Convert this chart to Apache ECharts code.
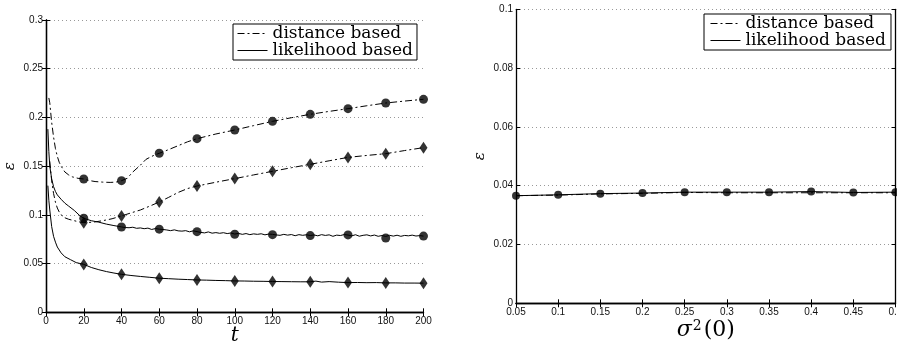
<!DOCTYPE html>
<html>
<head>
<meta charset="utf-8">
<script src="https://cdn.jsdelivr.net/npm/echarts@6/dist/echarts.min.js"></script>
<style>
html,body{margin:0;padding:0;background:#fff;}
#c{width:897px;height:343px;}
</style>
</head>
<body>
<div id="c"></div>
<script>
// ---------- Left panel data ----------
const tDistTop = [1.5,2,3,4,5,6,7,8,10,12,14,17,20,23,26,30,34,37,40,43,46,50,53,56,58,60,65,70,75,80,90,100,110,120,130,140,150,160,170,180,190,200];
const vDistTop = [0.220,0.215,0.195,0.180,0.168,0.160,0.154,0.150,0.144,0.141,0.139,0.1375,0.1368,0.1352,0.1342,0.1336,0.1333,0.1336,0.1351,0.1375,0.1440,0.1510,0.1570,0.1600,0.1618,0.1632,0.1670,0.1710,0.1750,0.1782,0.1830,0.1871,0.1916,0.1960,0.1997,0.2032,0.2062,0.2090,0.2120,0.2148,0.2168,0.2186];

const tDistLow = [2,3,4,5,6,7,8,10,12,14,17,20,25,30,35,40,45,50,55,60,65,70,75,80,90,100,110,120,130,140,150,160,170,180,190,200];
const vDistLow = [0.155,0.135,0.122,0.113,0.107,0.103,0.100,0.097,0.0955,0.0945,0.093,0.092,0.0925,0.094,0.096,0.0989,0.102,0.105,0.109,0.1132,0.118,0.123,0.127,0.1296,0.1335,0.1372,0.141,0.1447,0.1484,0.1519,0.1555,0.159,0.161,0.1628,0.166,0.169];

const tLikeTop = [1,1.5,2,3,4,5,6,8,10,12,15,18,20,24,28,32,36,40,42,44,46,48,50,52,54,56,58,60,62,64,66,68,70,72,74,76,78,80,82,84,86,88,90,92,94,96,98,100,102,104,106,108,110,112,114,116,118,120,122,124,126,128,130,132,134,136,138,140,142,144,146,148,150,152,154,156,158,160,162,164,166,168,170,172,174,176,178,180,182,184,186,188,190,192,194,196,198,200];
const vLikeTop = [0.188,0.165,0.150,0.137,0.129,0.124,0.1205,0.116,0.112,0.109,0.1045,0.099,0.0965,0.094,0.0925,0.0905,0.089,0.0876,
0.0870,0.0868,0.0873,0.0862,0.0866,0.0858,0.0864,0.0850,0.0860,0.0853,0.0850,0.0845,0.0838,0.0846,0.0836,0.0833,0.0838,0.0826,0.0836,0.0828,
0.0820,0.0815,0.0825,0.0812,0.0818,0.0811,0.0817,0.0808,0.0814,0.0803,0.0810,0.0800,0.0808,0.0797,0.0805,0.0800,0.0806,0.0795,0.0803,0.0800,
0.0794,0.0790,0.0800,0.0792,0.0798,0.0786,0.0797,0.0790,0.0796,0.0788,0.0794,0.0785,0.0797,0.0789,0.0795,0.0780,0.0792,0.0788,0.0798,0.0793,
0.0785,0.0796,0.0781,0.0790,0.0795,0.0784,0.0793,0.0780,0.0788,0.0779,0.0790,0.0782,0.0791,0.0780,0.0789,0.0785,0.0792,0.0783,0.0787,0.0782];

const tLikeLow = [1,1.5,2,3,4,5,6,8,10,13,16,20,24,28,32,36,40,45,50,55,60,65,70,75,80,85,90,95,100,105,110,115,120,125,130,135,140,143,146,150,155,160,165,170,175,180,185,190,195,200];
const vLikeLow = [0.130,0.115,0.105,0.088,0.078,0.072,0.067,0.061,0.057,0.054,0.051,0.0492,0.046,0.0437,0.0418,0.0403,0.0390,0.0378,0.0368,0.0359,0.0350,0.0345,0.0340,0.0336,0.0332,0.0330,0.0327,0.0325,0.0322,0.0321,0.0319,0.0318,0.0316,0.0315,0.0314,0.0313,0.0313,0.0320,0.0310,0.0315,0.0309,0.0305,0.0306,0.0304,0.0305,0.0302,0.0302,0.0300,0.0300,0.0299];

const tMarks = [20,40,60,80,100,120,140,160,180,200];
const distCircles  = [0.1368,0.1351,0.1632,0.1782,0.1871,0.1960,0.2032,0.2090,0.2148,0.2186];
const distDiamonds = [0.0920,0.0989,0.1132,0.1296,0.1372,0.1447,0.1519,0.1590,0.1628,0.1690];
const likeCircles  = [0.0965,0.0876,0.0853,0.0828,0.0801,0.0797,0.0787,0.0794,0.0762,0.0782];
const likeDiamonds = [0.0490,0.0390,0.0350,0.0332,0.0322,0.0316,0.0313,0.0305,0.0302,0.0299];

// ---------- Right panel data ----------
const sigma0 = [0.05,0.1,0.15,0.2,0.25,0.3,0.35,0.4,0.45,0.5];
const rightLike = [0.0366,0.0369,0.0373,0.0375,0.0378,0.0378,0.0378,0.0380,0.0377,0.0378];
const rightDist = [0.0366,0.0368,0.0372,0.0374,0.0377,0.0376,0.0376,0.0376,0.0376,0.0376];

const legendNames = ['distance based','likelihood based'];

// ---------- helpers ----------
const zip = (xs, ys) => xs.map((x, i) => [x, ys[i]]);
const DASHDOT = [7,3,2,3];
const LBL = {color:'#111', fontSize:10, fontFamily:'Liberation Sans, Arial, sans-serif'};
const AXLINE = {show:true, lineStyle:{color:'#000', width:1.3}};
const TICK = {show:true, inside:true, length:4, lineStyle:{color:'#000', width:1}};
const GRIDLINE = {show:true, lineStyle:{color:'#999', type:[1,3], width:1}};

function lineSeries(name, data, xi, dashed) {
  return {type:'line', name:name, data:data, xAxisIndex:xi, yAxisIndex:xi, symbol:'none',
    smooth:false, silent:true, z:3,
    lineStyle:{color:'#000', width:1, type: dashed ? DASHDOT : 'solid'}, itemStyle:{color:'#000'}};
}
function markSeries(data, xi, sym, size) {
  return {type:'scatter', name:'_m', data:data, xAxisIndex:xi, yAxisIndex:xi, symbol:sym,
    symbolSize:size, silent:true, z:5, itemStyle:{color:'#000'}};
}

const legendText = {color:'#000', fontSize:17, fontFamily:'DejaVu Serif, serif', lineHeight:17};
const legendBase = {data:legendNames, orient:'vertical', itemWidth:30, itemHeight:10, itemGap:0,
  borderColor:'#000', borderWidth:1, backgroundColor:'#fff', borderRadius:0,
  textStyle:legendText, selectedMode:false,
  itemStyle:{opacity:0}, lineStyle:{width:1, color:'#000'}};

const option = {
  animation:false,
  backgroundColor:'#fff',
  grid:[
    {left:46, right:473.5, top:20, bottom:30.7, outerBoundsMode:'none', containLabel:false},
    {left:516, right:1.5, top:9.3, bottom:39.7, outerBoundsMode:'none', containLabel:false}
  ],
  legend:[
    Object.assign({left:233, top:24, padding:[1,4,1,4]}, legendBase),
    Object.assign({left:704, top:14, padding:[1,5,1,6]}, legendBase)
  ],
  xAxis:[
    {type:'value', gridIndex:0, min:0, max:200, interval:20, position:'bottom',
     axisLine:AXLINE, axisTick:TICK, splitLine:{show:false}, axisLabel:Object.assign({margin:4}, LBL),
     name:'t', nameLocation:'middle', nameGap:13, nameMoveOverlap:false,
     nameTextStyle:{fontSize:20, fontStyle:'italic', fontFamily:'DejaVu Serif, serif', color:'#000'}},
    {type:'value', gridIndex:0, min:0, max:200, interval:20, position:'top',
     axisLine:AXLINE, axisTick:TICK, splitLine:{show:false}, axisLabel:{show:false}},
    {type:'value', gridIndex:1, min:0.05, max:0.5, interval:0.05, position:'bottom',
     axisLine:AXLINE, axisTick:TICK, splitLine:{show:false}, axisLabel:Object.assign({margin:4}, LBL),
     name:'{i|σ}{s|2}{r|(0)}', nameLocation:'middle', nameGap:16, nameMoveOverlap:false,
     nameTextStyle:{rich:{
       i:{fontSize:22, fontStyle:'italic', fontFamily:'DejaVu Serif, serif', color:'#000', verticalAlign:'bottom'},
       s:{fontSize:14, fontFamily:'DejaVu Serif, serif', color:'#000', verticalAlign:'top', padding:[0,2,0,1]},
       r:{fontSize:22, fontFamily:'DejaVu Serif, serif', color:'#000', verticalAlign:'bottom'}}}},
    {type:'value', gridIndex:1, min:0.05, max:0.5, interval:0.05, position:'top',
     axisLine:AXLINE, axisTick:TICK, splitLine:{show:false}, axisLabel:{show:false}}
  ],
  yAxis:[
    {type:'value', gridIndex:0, min:0, max:0.3, interval:0.05, position:'left',
     axisLine:AXLINE, axisTick:TICK, splitLine:GRIDLINE, axisLabel:Object.assign({margin:3}, LBL),
     name:'ε', nameLocation:'middle', nameGap:28, nameMoveOverlap:false,
     nameTextStyle:{fontSize:15, fontStyle:'italic', fontFamily:'DejaVu Serif, serif', color:'#000'}},
    {type:'value', gridIndex:0, min:0, max:0.3, interval:0.05, position:'right',
     axisLine:AXLINE, axisTick:TICK, splitLine:{show:false}, axisLabel:{show:false}},
    {type:'value', gridIndex:1, min:0, max:0.1, interval:0.02, position:'left',
     axisLine:AXLINE, axisTick:TICK, splitLine:GRIDLINE, axisLabel:Object.assign({margin:3}, LBL),
     name:'ε', nameLocation:'middle', nameGap:28, nameMoveOverlap:false,
     nameTextStyle:{fontSize:15, fontStyle:'italic', fontFamily:'DejaVu Serif, serif', color:'#000'}},
    {type:'value', gridIndex:1, min:0, max:0.1, interval:0.02, position:'right',
     axisLine:AXLINE, axisTick:TICK, splitLine:{show:false}, axisLabel:{show:false}}
  ],
  series:[
    lineSeries('distance based', zip(tDistTop, vDistTop), 0, true),
    lineSeries('likelihood based', zip(tLikeTop, vLikeTop), 0, false),
    lineSeries('distance based', zip(tDistLow, vDistLow), 0, true),
    lineSeries('likelihood based', zip(tLikeLow, vLikeLow), 0, false),
    markSeries(zip(tMarks, distCircles), 0, 'circle', 9),
    markSeries(zip(tMarks, likeCircles), 0, 'circle', 9),
    markSeries(zip(tMarks, distDiamonds), 0, 'diamond', [8,12]),
    markSeries(zip(tMarks, likeDiamonds), 0, 'diamond', [8,12]),
    lineSeries('distance based', zip(sigma0, rightDist), 2, true),
    lineSeries('likelihood based', zip(sigma0, rightLike), 2, false),
    markSeries(zip(sigma0, rightLike), 2, 'circle', 8)
  ]
};

const chart = echarts.init(document.getElementById('c'), null, {renderer:'canvas'});
chart.setOption(option);
</script>
</body>
</html>
